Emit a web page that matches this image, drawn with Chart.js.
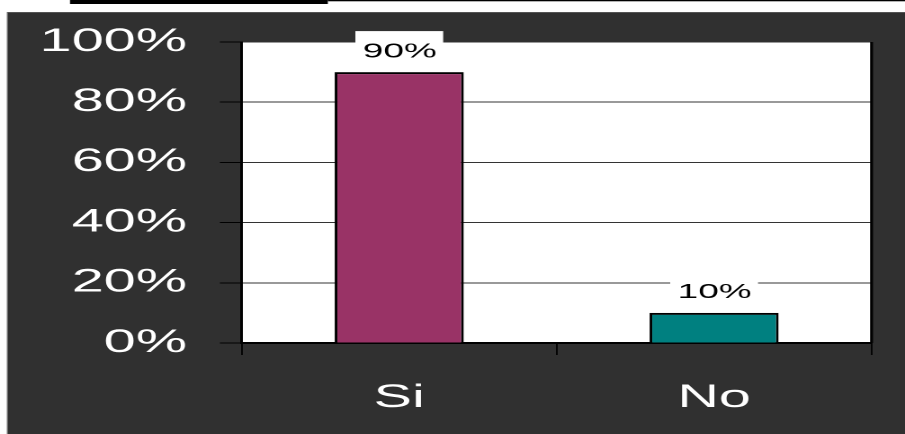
<!DOCTYPE html>
<html lang="es">
<head>
  <meta charset="utf-8" />
  <title>Si / No</title>
  <style>
html, body { margin: 0; padding: 0; background: #fff; overflow: hidden; }
/* the original picture is stretched sideways, so the chart is drawn narrow and widened */
#wrap {
  width: 503px;
  height: 434px;
  transform: scaleX(1.7992);
  transform-origin: 0 0;
}
  </style>
</head>
<body>
  <div id="wrap">
    <canvas id="myChart" width="503" height="434"></canvas>
  </div>
  <script src="https://cdn.jsdelivr.net/npm/chart.js@4/dist/chart.umd.min.js"></script>
  <script>

const categories = ['Si', 'No'];
const values = [0.9, 0.1];
const barColors = ['#993366', '#008080'];
const yTicks = [0, 0.2, 0.4, 0.6, 0.8, 1];

const pct = v => Math.round(v * 100) + '%';

// dark frame, white plot area, the black strip at the top and the right border
const framePlugin = {
  id: 'frame',
  beforeDraw(chart) {
    const ctx = chart.ctx;
    const a = chart.chartArea;
    ctx.save();
    ctx.fillStyle = '#fff';
    ctx.fillRect(0, 0, chart.width, chart.height);
    ctx.fillStyle = '#303030';
    ctx.fillRect(3.9, 12, chart.width, chart.height);
    ctx.strokeStyle = '#6a6a6a';
    ctx.lineWidth = 0.6;
    ctx.beginPath();
    ctx.moveTo(4.2, chart.height);
    ctx.lineTo(4.2, 12.4);
    ctx.lineTo(chart.width, 12.4);
    ctx.stroke();
    ctx.fillStyle = '#000';
    ctx.fillRect(38.9, 0, 143.3, 4);
    ctx.fillRect(182.2, 0, chart.width, 1.3);
    ctx.fillStyle = '#fff';
    ctx.fillRect(a.left, a.top, a.right - a.left, a.bottom - a.top);
    ctx.restore();
  },
  afterDraw(chart) {
    const ctx = chart.ctx;
    const a = chart.chartArea;
    ctx.save();
    ctx.strokeStyle = '#000';
    ctx.lineWidth = 1.6;
    ctx.beginPath();
    ctx.moveTo(a.right, a.top);
    ctx.lineTo(a.right, a.bottom);
    ctx.stroke();
    ctx.restore();
  }
};

// value labels in white boxes above the bars
const labelPlugin = {
  id: 'barLabels',
  afterDatasetsDraw(chart) {
    const ctx = chart.ctx;
    const meta = chart.getDatasetMeta(0);
    ctx.save();
    ctx.font = '20.5px "Liberation Sans", Arial, sans-serif';
    ctx.textAlign = 'center';
    ctx.textBaseline = 'middle';
    meta.data.forEach((bar, i) => {
      const cy = bar.y - 21;
      ctx.fillStyle = '#fff';
      ctx.fillRect(bar.x - 24.4, cy - 20, 48.8, 40);
      ctx.fillStyle = '#000';
      ctx.fillText(pct(values[i]), bar.x + 0.3, cy + 0.5);
    });
    ctx.restore();
  }
};

const tickFont = { family: '"Liberation Sans", Arial, sans-serif', size: 32 };

const config = {
  type: 'bar',
  data: {
    labels: categories,
    datasets: [{
      data: values,
      backgroundColor: barColors,
      borderColor: '#000',
      borderWidth: { top: 2, left: 1.5, right: 1.5, bottom: 0 },
      borderSkipped: false,
      categoryPercentage: 1,
      barPercentage: 0.41
    }]
  },
  options: {
    responsive: false,
    animation: false,
    devicePixelRatio: 2,
    layout: { padding: { top: 42, right: 18.6, bottom: 0, left: 0 } },
    plugins: {
      legend: { display: false },
      tooltip: { enabled: false }
    },
    scales: {
      x: {
        grid: {
          offset: true,
          drawOnChartArea: false,
          tickLength: 12,
          color: '#000',
          lineWidth: 0.9
        },
        border: { color: '#000', width: 2 },
        ticks: { color: '#fff', font: tickFont, padding: 24 },
        afterFit(scale) { scale.height = 91; }
      },
      y: {
        min: 0,
        max: 1,
        afterBuildTicks(scale) { scale.ticks = yTicks.map(v => ({ value: v })); },
        grid: {
          color: '#333',
          lineWidth: 1,
          tickLength: 12.2,
          tickColor: '#000'
        },
        border: { color: '#000', width: 1.5 },
        ticks: {
          color: '#fff',
          font: tickFont,
          padding: 18.3,
          callback: v => pct(v)
        },
        afterFit(scale) { scale.width = 134.4; }
      }
    }
  },
  plugins: [framePlugin, labelPlugin]
};

const chart = new Chart(document.getElementById('myChart'), config);
  </script>
</body>
</html>
